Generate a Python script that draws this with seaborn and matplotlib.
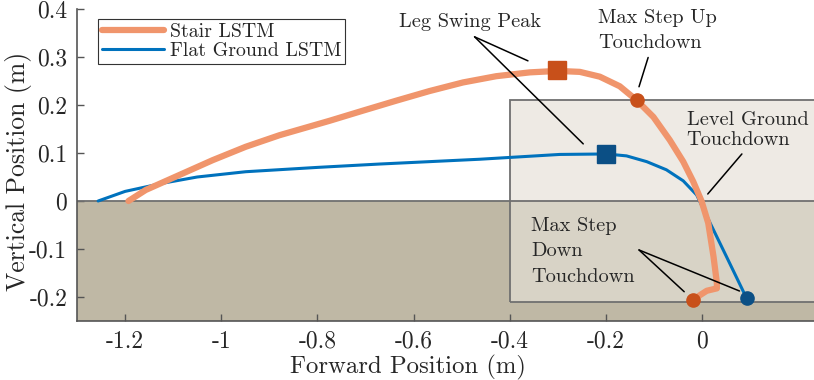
import numpy as np
import pandas as pd
import seaborn as sns
import matplotlib.pyplot as plt
from matplotlib.patches import Rectangle
from matplotlib.ticker import FuncFormatter

# foot trajectories (m)
stair_x = [-1.193, -1.157, -1.0875, -1.018, -0.949, -0.879, -0.775, -0.706, -0.636, -0.567,
           -0.497, -0.428, -0.358, -0.3, -0.254, -0.2125, -0.171, -0.136, -0.101, -0.067,
           -0.039, -0.018, -0.001, 0.013, 0.024, 0.031, 0.031, 0.01, -0.004, -0.018]
stair_y = [0.0, 0.023, 0.054, 0.085, 0.113, 0.137, 0.167, 0.188, 0.209, 0.229,
           0.247, 0.26, 0.268, 0.271, 0.269, 0.259, 0.239, 0.21, 0.175, 0.127,
           0.082, 0.04, 0.0, -0.046, -0.116, -0.171, -0.182, -0.187, -0.196, -0.206]

flat_x = [-1.256, -1.2, -1.122, -1.05, -0.949, -0.8, -0.671, -0.4625, -0.296, -0.199,
          -0.157, -0.115, -0.074, -0.039, -0.011, 0.017, 0.051, 0.093]
flat_y = [0.0, 0.02, 0.037, 0.05, 0.061, 0.07, 0.077, 0.087, 0.097, 0.098,
          0.094, 0.082, 0.065, 0.042, 0.0125, -0.046, -0.116, -0.203]

# key events
stair_peak = (-0.302, 0.272)
stair_up_td = (-0.136, 0.21)
stair_down_td = (-0.018, -0.206)
flat_peak = (-0.199, 0.098)
flat_down_td = (0.093, -0.203)

xticks = [-1.2, -1.0, -0.8, -0.6, -0.4, -0.2, 0.0]
yticks = [-0.2, -0.1, 0.0, 0.1, 0.2, 0.3, 0.4]

orange = '#F0956C'
orange_dk = '#C8501A'
blue = '#0072BD'
blue_dk = '#0B4F85'

sns.set_style("ticks")
plt.rcParams['font.family'] = ['cmr10', 'DejaVu Serif']
plt.rcParams['axes.unicode_minus'] = False
plt.rcParams['mathtext.fontset'] = 'cm'

fig = plt.figure(figsize=(8.14, 3.8), dpi=100)
ax = fig.add_axes([77/814, 59/380, 737/814, 312/380])

# ground and step region
ax.axhspan(-0.25, 0, color='#BFB8A5', zorder=0)
ax.add_patch(Rectangle((-0.4, 0), 1, 0.21, facecolor='#EEEAE4', edgecolor='none', zorder=0.5))
ax.add_patch(Rectangle((-0.4, -0.21), 1, 0.21, facecolor='#D8D3C6', edgecolor='none', zorder=0.5))
ax.add_patch(Rectangle((-0.4, -0.21), 1, 0.42, facecolor='none', edgecolor='#707070', lw=1.3, zorder=0.6))
ax.axhline(0, color='#707070', lw=1.3, zorder=0.6)

stair = pd.DataFrame({'x': stair_x, 'y': stair_y})
flat = pd.DataFrame({'x': flat_x, 'y': flat_y})
sns.lineplot(data=stair, x='x', y='y', sort=False, estimator=None, color=orange, lw=4.5, ax=ax,
             label='Stair LSTM', solid_capstyle='round', solid_joinstyle='round', zorder=3)
sns.lineplot(data=flat, x='x', y='y', sort=False, estimator=None, color=blue, lw=2.2, ax=ax,
             label='Flat Ground LSTM', solid_joinstyle='round', zorder=2)

ax.plot(*stair_peak, 's', color=orange_dk, ms=13, zorder=5)
ax.plot(*flat_peak, 's', color=blue_dk, ms=13, zorder=5)
ax.plot(*stair_up_td, 'o', color=orange_dk, ms=9.5, zorder=5)
ax.plot(*stair_down_td, 'o', color=orange_dk, ms=9.5, zorder=5)
ax.plot(*flat_down_td, 'o', color=blue_dk, ms=9.5, zorder=5)

# annotations
fs = 14.6
line = dict(arrowstyle='-', color='black', lw=1.1, shrinkA=0, shrinkB=0)
ax.text(-0.63, 0.363, 'Leg Swing Peak', fontsize=fs, va='baseline')
ax.annotate('', xy=(-0.362, 0.292), xytext=(-0.473, 0.342), arrowprops=line)
ax.annotate('', xy=(-0.247, 0.119), xytext=(-0.473, 0.342), arrowprops=line)

ax.text(-0.216, 0.370, 'Max Step Up', fontsize=fs, va='baseline')
ax.text(-0.216, 0.318, 'Touchdown', fontsize=fs, va='baseline')
ax.annotate('', xy=(-0.131, 0.238), xytext=(-0.112, 0.299), arrowprops=line)

ax.text(-0.032, 0.158, 'Level Ground', fontsize=fs, va='baseline')
ax.text(-0.032, 0.117, 'Touchdown', fontsize=fs, va='baseline')
ax.annotate('', xy=(0.012, 0.0146), xytext=(0.083, 0.098), arrowprops=line)

ax.text(-0.355, -0.062, 'Max Step', fontsize=fs, va='baseline')
ax.text(-0.355, -0.115, 'Down', fontsize=fs, va='baseline')
ax.text(-0.355, -0.168, 'Touchdown', fontsize=fs, va='baseline')
ax.annotate('', xy=(-0.037, -0.189), xytext=(-0.131, -0.102), arrowprops=line)
ax.annotate('', xy=(0.078, -0.1875), xytext=(-0.131, -0.102), arrowprops=line)

ax.set_xlim(-1.3, 0.233)
ax.set_ylim(-0.25, 0.4)
ax.set_xticks(xticks)
ax.set_yticks(yticks)
fmt = FuncFormatter(lambda v, p: '%g' % round(v, 2))
ax.xaxis.set_major_formatter(fmt)
ax.yaxis.set_major_formatter(fmt)
ax.tick_params(direction='in', length=5, width=1, colors='#555555', labelcolor='#262626',
               labelsize=17, pad=7)
for s in ['top', 'right']:
    ax.spines[s].set_visible(False)
for s in ['left', 'bottom']:
    ax.spines[s].set_color('#555555')
    ax.spines[s].set_linewidth(1.2)
    ax.spines[s].set_zorder(6)

ax.set_xlabel('Forward Position (m)', fontsize=17.8, color='#262626')
ax.set_ylabel('Vertical Position (m)', fontsize=18.5, color='#262626')
ax.xaxis.set_label_coords(0.449, -0.108)
ax.yaxis.set_label_coords(-0.061, 0.479)

leg = ax.legend(loc='upper left', bbox_to_anchor=(0.0285, 0.968), fontsize=14.3, frameon=True,
                fancybox=False, edgecolor='#333333', framealpha=1, handlelength=3.1,
                borderpad=0.2, labelspacing=0.05, handletextpad=0.3, borderaxespad=0)
leg.get_frame().set_linewidth(0.8)

fig.savefig('out.png', dpi=100)
